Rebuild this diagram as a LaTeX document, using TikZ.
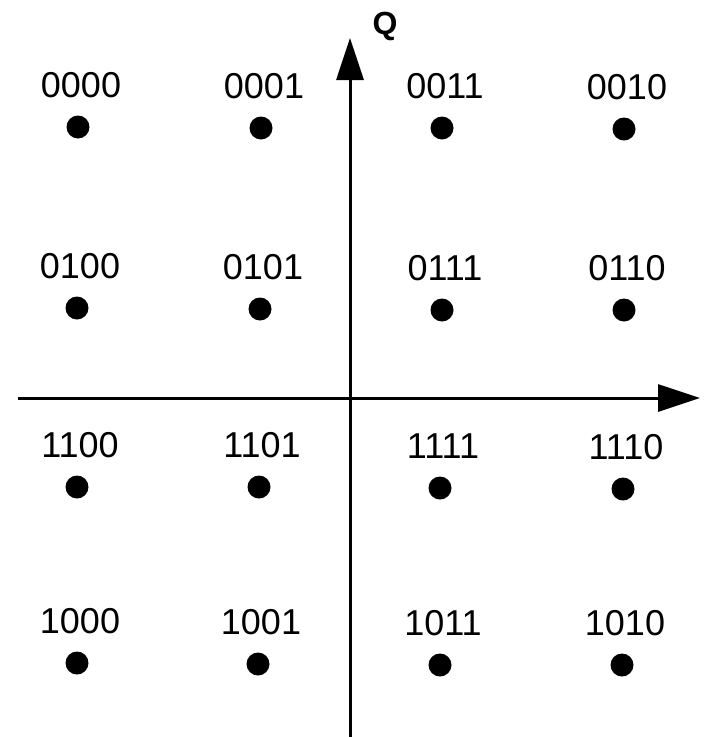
\documentclass[tikz,border=0pt]{standalone}
\usepackage{fontspec}
\setmainfont{Liberation Sans}
\usetikzlibrary{arrows.meta}
\begin{document}
\begin{tikzpicture}[x=1pt,y=-1pt,
  dotpt/.style={circle,fill=black,inner sep=0pt,minimum size=23pt},
  lbl/.style={font=\fontsize{36}{40}\selectfont,inner sep=0pt},
  axis/.style={line width=3pt,-{Triangle[length=42pt,width=27pt]}}]
\useasboundingbox (0,0) rectangle (720,737);
\coordinate (vb) at (350,737);
\coordinate (vt) at (350,38);
\coordinate (hl) at (18,398);
\coordinate (hr) at (700,398);
\draw[axis] (vb) -- (vt);
\draw[axis] (hl) -- (hr);
\node[font=\bfseries\fontsize{32}{36}\selectfont,inner sep=0pt] (q) at (385,26) {Q};
\foreach \lab/\x/\y [count=\i] in {
  0000/78/127, 0001/261/128, 0011/442/128, 0010/624/129,
  0100/77/308, 0101/260/309, 0111/442/310, 0110/624/310,
  1100/77/487, 1101/259/487, 1111/440/488, 1110/623/489,
  1000/77/663, 1001/258/664, 1011/440/665, 1010/622/665}{
  \node[dotpt] (d\i) at (\x,\y) {};
  \node[lbl] (l\i) at (\x+3,\y-42) {\lab};
}
\end{tikzpicture}
\end{document}
